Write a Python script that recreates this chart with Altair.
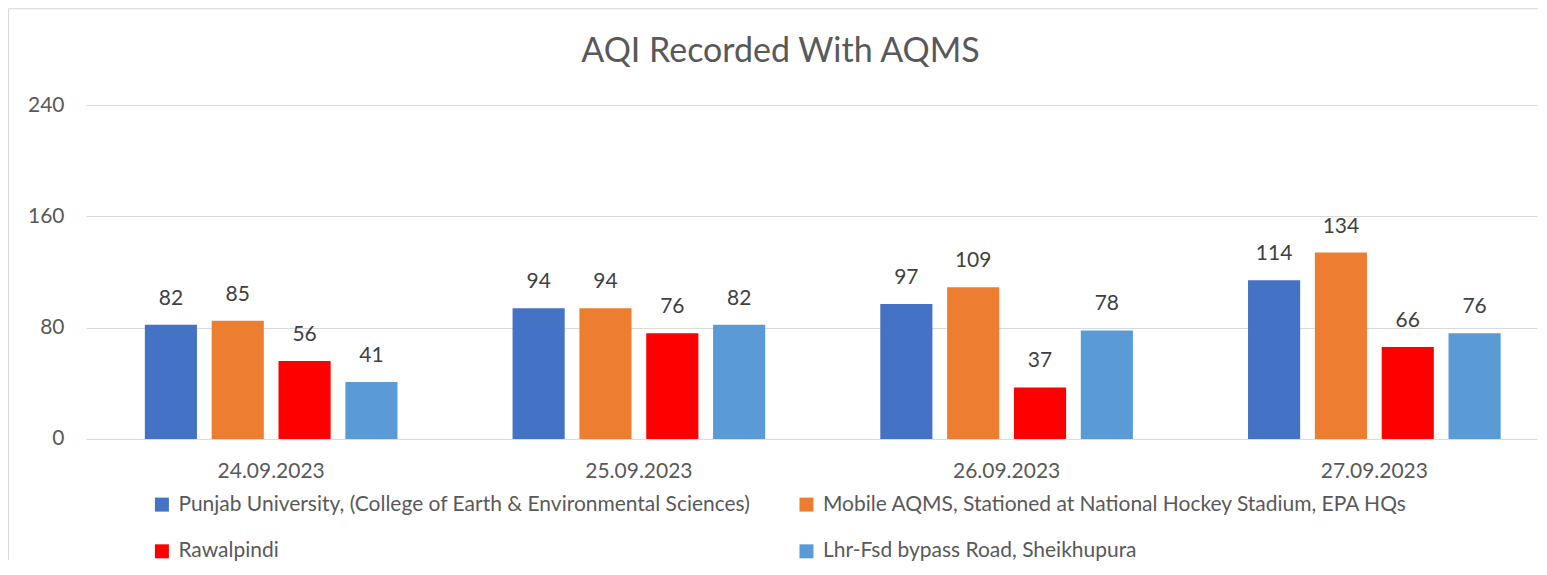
import altair as alt
import pandas as pd

dates = ["24.09.2023", "25.09.2023", "26.09.2023", "27.09.2023"]
stations = [
    "Punjab University, (College of Earth & Environmental Sciences)",
    "Mobile AQMS, Stationed at National Hockey Stadium, EPA HQs",
    "Rawalpindi",
    "Lhr-Fsd bypass Road, Sheikhupura",
]
punjab = [82, 94, 97, 114]
mobile = [85, 94, 109, 134]
rawalpindi = [56, 76, 37, 66]
lhr = [41, 82, 78, 76]
colors = ["#4472C4", "#ED7D31", "#FF0000", "#5B9BD5"]
y_ticks = [0, 80, 160, 240]
title_text = "AQI Recorded With AQMS"

series = [punjab, mobile, rawalpindi, lhr]
rows = []
for st, vals in zip(stations, series):
    for d, v in zip(dates, vals):
        rows.append({"date": d, "station": st, "value": v})
df = pd.DataFrame(rows)

FONT = "Lato"
W, H = 1452, 334

x = alt.X(
    "date:N", sort=dates,
    scale=alt.Scale(paddingInner=0.273, paddingOuter=0.1095, align=0.64),
    axis=alt.Axis(title=None, labelAngle=0, domain=False, ticks=False,
                  labelPadding=22, labelFontSize=21, labelColor="#595959",
                  labelFont=FONT),
)
y = alt.Y(
    "value:Q", scale=alt.Scale(domain=[0, 240]),
    axis=alt.Axis(values=y_ticks, title=None, domain=False, ticks=False,
                  labelPadding=22, gridColor="#d9d9d9", labelFontSize=21,
                  labelColor="#595959", labelFont=FONT),
)
xoff = alt.XOffset("station:N", sort=stations,
                   scale=alt.Scale(domain=stations, paddingInner=0.22, paddingOuter=0.11))

color = alt.Color(
    "station:N", sort=stations,
    scale=alt.Scale(domain=stations, range=colors),
    legend=alt.Legend(orient="none", legendX=65.5, legendY=389, direction="horizontal",
                      columns=2, title=None, symbolType="square",
                      symbolSize=196, labelFontSize=21, labelFont=FONT,
                      labelColor="#595959", rowPadding=25, columnPadding=45,
                      labelOffset=6, symbolStrokeWidth=0, labelLimit=1000),
)

base = alt.Chart(df)
bars = base.mark_bar().encode(x=x, y=y, xOffset=xoff, color=color)
labels = base.mark_text(fontSize=21, font=FONT, color="#404040", dy=-26,
                        baseline="middle").encode(
    x=x, y=y, xOffset=xoff, text=alt.Text("value:Q"))

title = alt.Chart(alt.Data(values=[{"t": title_text}])).mark_text(
    fontSize=34, font=FONT, color="#595959", baseline="middle", align="center"
).encode(text="t:N", x=alt.value(695), y=alt.value(-53))

border_data = alt.Data(values=[{"k": 1}])
top_rule = alt.Chart(border_data).mark_rule(color="#d9d9d9", strokeWidth=1).encode(
    x=alt.value(-77.5), x2=alt.value(W + 1), y=alt.value(-96.5))
left_rule = alt.Chart(border_data).mark_rule(color="#d9d9d9", strokeWidth=1).encode(
    x=alt.value(-77.5), y=alt.value(-96.5), y2=alt.value(H + 121))

chart = alt.layer(top_rule, left_rule, title, bars, labels).properties(
    width=W, height=H, padding=0,
).configure_view(stroke=None)

chart.save("out.html", embed_options={"renderer": "svg", "actions": False})
